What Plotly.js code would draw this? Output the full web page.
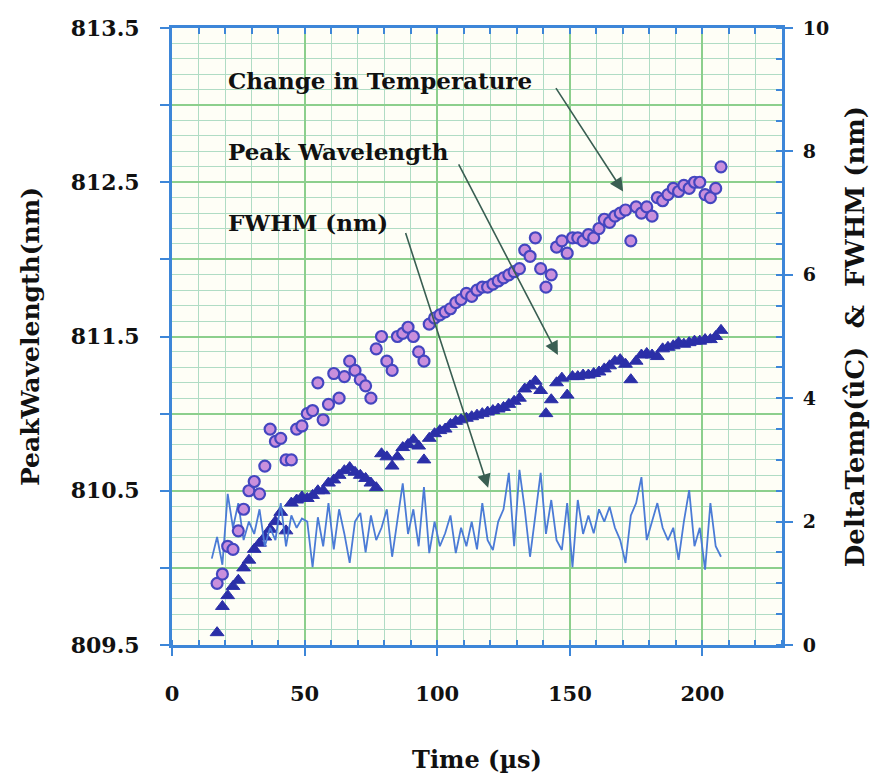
<!DOCTYPE html>
<html>
<head>
<meta charset="utf-8">
<script src="https://cdn.plot.ly/plotly-3.0.1.min.js"></script>
<style>html,body{margin:0;padding:0;background:#fff;}#chart{width:878px;height:780px;}</style>
</head>
<body>
<div id="chart"></div>
<script>
// Time (µs) for the Change in Temperature and Peak Wavelength series
const time_us = [17,19,21,23,25,27,29,31,33,35,37,39,41,43,45,47,49,51,53,55,57,59,61,63,65,67,69,71,73,75,77,79,81,83,85,87,89,91,93,95,97,99,101,103,105,107,109,111,113,115,117,119,121,123,125,127,129,131,133,135,137,139,141,143,145,147,149,151,153,155,157,159,161,163,165,167,169,171,173,175,177,179,181,183,185,187,189,191,193,195,197,199,201,203,205,207];

// Change in Temperature (right axis, °C)
const delta_temp = [1.0,1.15,1.6,1.55,1.85,2.2,2.5,2.65,2.45,2.9,3.5,3.3,3.35,3.0,3.0,3.5,3.55,3.75,3.8,4.25,3.65,3.9,4.4,4.0,4.35,4.6,4.45,4.3,4.2,4.0,4.8,5.0,4.6,4.45,5.0,5.05,5.15,5.0,4.75,4.6,5.2,5.3,5.35,5.4,5.45,5.55,5.6,5.7,5.65,5.75,5.8,5.8,5.85,5.9,5.95,6.0,6.05,6.1,6.4,6.3,6.6,6.1,5.8,6.0,6.45,6.55,6.35,6.6,6.6,6.55,6.65,6.6,6.75,6.9,6.85,6.95,7.0,7.05,6.55,7.1,7.0,7.1,6.95,7.25,7.2,7.3,7.4,7.35,7.45,7.4,7.5,7.5,7.3,7.25,7.4,7.75];

// Peak Wavelength (left axis, nm)
const peak_wavelength = [809.58,809.75,809.82,809.88,809.92,810.0,810.05,810.12,810.16,810.2,810.25,810.3,810.36,810.24,810.42,810.44,810.46,810.45,810.47,810.5,810.5,810.55,810.57,810.6,810.63,810.65,810.62,810.6,810.58,810.55,810.52,810.74,810.72,810.66,810.72,810.78,810.8,810.83,810.79,810.7,810.84,810.87,810.89,810.9,810.93,810.95,810.96,810.97,810.98,810.99,811.0,811.01,811.02,811.03,811.04,811.06,811.08,811.1,811.16,811.18,811.21,811.15,811.0,811.09,811.2,811.23,811.12,811.24,811.24,811.25,811.25,811.26,811.27,811.29,811.31,811.34,811.35,811.32,811.22,811.34,811.38,811.39,811.38,811.37,811.42,811.43,811.44,811.46,811.45,811.46,811.47,811.47,811.48,811.48,811.5,811.54];

// FWHM (right axis, nm)
const fwhm_time_us = [15,17,19,21,23,25,27,29,31,33,35,37,39,41,43,45,47,49,51,53,55,57,59,61,63,65,67,69,71,73,75,77,79,81,83,85,87,89,91,93,95,97,99,101,103,105,107,109,111,113,115,117,119,121,123,125,127,129,131,133,135,137,139,141,143,145,147,149,151,153,155,157,159,161,163,165,167,169,171,173,175,177,179,181,183,185,187,189,191,193,195,197,199,201,203,205,207];
const fwhm = [1.4,1.75,1.3,2.45,1.9,2.3,1.7,2.0,1.8,2.2,1.6,1.9,1.7,2.3,1.6,2.1,1.9,2.05,2.0,1.26,2.07,1.6,2.3,1.55,2.2,1.8,1.33,2.0,2.14,1.5,2.1,1.7,1.9,2.2,1.43,2.0,2.62,1.8,2.2,1.6,2.56,1.49,2.0,1.6,1.81,2.1,1.49,1.9,1.6,2.0,1.55,2.3,1.7,1.54,2.0,2.2,2.79,1.6,2.84,2.2,1.43,2.1,2.79,1.8,2.35,1.7,1.54,2.3,1.26,2.35,1.8,2.1,1.81,2.2,2.0,2.24,1.9,1.7,1.33,2.1,2.3,2.72,1.7,2.0,2.3,1.9,1.7,1.9,1.38,2.0,2.51,1.6,1.9,1.22,2.3,1.6,1.43];

// Axis tick labels
const left_tickvals = [809.5,810,810.5,811,811.5,812,812.5,813,813.5];
const left_ticktext = ['809.5','','810.5','','811.5','','812.5','','813.5'];

const FONT = 'DejaVu Serif';
const AXIS_BLUE = '#3d86d8';
const GRID_MAJOR = '#8ccf8c';
const GRID_MINOR = '#b0dcc4';

const traces = [
  {
    x: fwhm_time_us, y: fwhm, yaxis: 'y2', type: 'scatter', mode: 'lines',
    name: 'FWHM (nm)', line: {color: '#4b7bd6', width: 1.8}
  },
  {
    x: time_us, y: delta_temp, yaxis: 'y2', type: 'scatter', mode: 'markers',
    name: 'Change in Temperature',
    marker: {symbol: 'circle', size: 11, color: '#c98fdc', line: {color: '#4446c0', width: 2.2}}
  },
  {
    x: time_us, y: peak_wavelength, yaxis: 'y', type: 'scatter', mode: 'markers',
    name: 'Peak Wavelength',
    marker: {symbol: 'triangle-up', size: 12, color: '#2b2fa8', line: {color: '#2b2fa8', width: 1}}
  },
  {
    x: [0], y: [0], xaxis: 'x2', yaxis: 'y2', type: 'scatter', mode: 'markers',
    marker: {opacity: 0}, hoverinfo: 'skip', showlegend: false
  }
];

const annFont = {family: FONT, size: 23, color: '#111', weight: 'bold'};
const arrowColor = '#3a5e52';

const layout = {
  width: 878, height: 780,
  margin: {l: 172, r: 96, t: 28, b: 135},
  paper_bgcolor: '#ffffff',
  plot_bgcolor: '#fefef6',
  showlegend: false,
  xaxis: {
    range: [0, 230], tickmode: 'linear', tick0: 0, dtick: 50,
    showgrid: true, gridcolor: GRID_MAJOR, gridwidth: 2,
    zeroline: false, showline: true, linecolor: AXIS_BLUE, linewidth: 3,
    ticks: 'outside', ticklen: 8, tickwidth: 2, tickcolor: AXIS_BLUE,
    ticklabelstandoff: 20,
    tickfont: {family: FONT, size: 21, color: '#111', weight: 'bold'},
    minor: {tickmode: 'linear', tick0: 0, dtick: 10, showgrid: true, gridcolor: GRID_MINOR, gridwidth: 1,
            ticks: 'inside', ticklen: 5, tickwidth: 2, tickcolor: AXIS_BLUE},
    title: {text: 'Time (µs)', standoff: 46, font: {family: FONT, size: 24, color: '#111', weight: 'bold'}},
    automargin: false
  },
  xaxis2: {
    overlaying: 'x', side: 'top', anchor: 'y', range: [0, 230],
    tickmode: 'linear', tick0: 0, dtick: 10, showticklabels: false,
    showgrid: false, zeroline: false, showline: true, linecolor: AXIS_BLUE, linewidth: 3,
    ticks: 'inside', ticklen: 6, tickwidth: 2, tickcolor: AXIS_BLUE
  },
  yaxis: {
    range: [809.5, 813.5], tickmode: 'array', tickvals: left_tickvals, ticktext: left_ticktext,
    showgrid: true, gridcolor: GRID_MAJOR, gridwidth: 2,
    zeroline: false, showline: true, linecolor: AXIS_BLUE, linewidth: 3,
    ticks: 'outside', ticklen: 9, tickwidth: 2, tickcolor: AXIS_BLUE,
    ticklabelstandoff: 16,
    tickfont: {family: FONT, size: 22, color: '#111', weight: 'bold'},
    minor: {tickmode: 'linear', tick0: 809.5, dtick: 0.1, showgrid: true, gridcolor: GRID_MINOR, gridwidth: 1, ticks: ''},
    title: {text: 'PeakWavelength(nm)', standoff: 24, font: {family: FONT, size: 25, color: '#111', weight: 'bold'}},
    automargin: false
  },
  yaxis2: {
    overlaying: 'y', side: 'right', anchor: 'x', range: [0, 10],
    tickmode: 'linear', tick0: 0, dtick: 2,
    showgrid: false, zeroline: false, showline: true, linecolor: AXIS_BLUE, linewidth: 3,
    ticks: 'outside', ticklen: 8, tickwidth: 2, tickcolor: AXIS_BLUE,
    ticklabelstandoff: 6,
    tickfont: {family: FONT, size: 19, color: '#111', weight: 'bold'},
    minor: {tickmode: 'linear', tick0: 0, dtick: 0.5, showgrid: false, ticks: 'inside', ticklen: 6, tickwidth: 2, tickcolor: AXIS_BLUE},
    title: {text: 'DeltaTemp(ûC)\u00a0\u00a0&\u00a0\u00a0FWHM (nm)', standoff: 18, font: {family: FONT, size: 26, color: '#111', weight: 'bold'}},
    automargin: false
  },
  annotations: [
    {xref: 'x', yref: 'y', x: 20.5, y: 813.16, text: 'Change in Temperature', showarrow: false,
     xanchor: 'left', yanchor: 'middle', font: annFont},
    {xref: 'x', yref: 'y', x: 20.5, y: 812.7, text: 'Peak Wavelength', showarrow: false,
     xanchor: 'left', yanchor: 'middle', font: annFont},
    {xref: 'x', yref: 'y', x: 20.5, y: 812.24, text: 'FWHM (nm)', showarrow: false,
     xanchor: 'left', yanchor: 'middle', font: annFont},
    {xref: 'x', yref: 'y', axref: 'x', ayref: 'y', x: 170.1, y: 812.44, ax: 144.4, ay: 813.12,
     text: '', showarrow: true, arrowhead: 2, arrowsize: 1.7, arrowwidth: 1.6, arrowcolor: arrowColor, standoff: 0},
    {xref: 'x', yref: 'y', axref: 'x', ayref: 'y', x: 145.5, y: 811.38, ax: 107.8, ay: 812.625,
     text: '', showarrow: true, arrowhead: 2, arrowsize: 1.7, arrowwidth: 1.6, arrowcolor: arrowColor, standoff: 0},
    {xref: 'x', yref: 'y', axref: 'x', ayref: 'y', x: 119.2, y: 810.52, ax: 87.9, ay: 812.18,
     text: '', showarrow: true, arrowhead: 2, arrowsize: 1.7, arrowwidth: 1.6, arrowcolor: arrowColor, standoff: 0}
  ]
};

Plotly.newPlot('chart', traces, layout, {displayModeBar: false, staticPlot: true});
</script>
</body>
</html>
